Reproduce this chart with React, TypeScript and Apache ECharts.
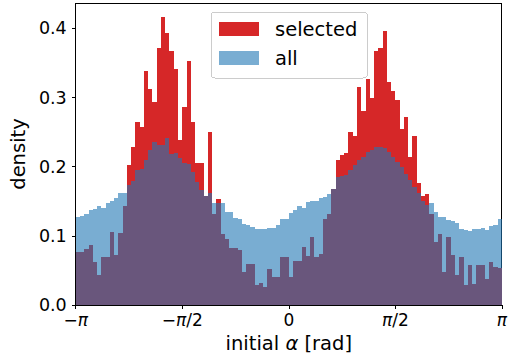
import React, { useEffect, useRef } from "react";
import * as echarts from "echarts";

const PI = Math.PI;
const BIN_COUNT = 100;
const binCenters: string[] = Array.from({ length: BIN_COUNT }, (_, i) =>
  (-PI + (2 * PI * (i + 0.5)) / BIN_COUNT).toFixed(4)
);

const selectedDensity: number[] = [
  0.076, 0.077, 0.081, 0.087, 0.062, 0.044, 0.069, 0.069, 0.106, 0.073,
  0.104, 0.143, 0.202, 0.228, 0.265, 0.257, 0.338, 0.312, 0.294, 0.371,
  0.416, 0.393, 0.367, 0.342, 0.239, 0.287, 0.353, 0.265, 0.205, 0.205,
  0.157, 0.250, 0.132, 0.154, 0.103, 0.096, 0.083, 0.083, 0.080, 0.048,
  0.059, 0.059, 0.029, 0.032, 0.026, 0.052, 0.040, 0.040, 0.070, 0.070,
  0.040, 0.063, 0.063, 0.084, 0.071, 0.099, 0.070, 0.074, 0.125, 0.132,
  0.168, 0.210, 0.217, 0.220, 0.250, 0.245, 0.316, 0.280, 0.327, 0.300,
  0.368, 0.372, 0.397, 0.322, 0.309, 0.297, 0.254, 0.272, 0.214, 0.245,
  0.176, 0.157, 0.161, 0.132, 0.091, 0.103, 0.048, 0.099, 0.072, 0.043,
  0.069, 0.029, 0.058, 0.031, 0.058, 0.058, 0.037, 0.062, 0.055, 0.054,
];

const allDensity: number[] = [
  0.128, 0.129, 0.131, 0.138, 0.139, 0.143, 0.141, 0.148, 0.150, 0.155,
  0.162, 0.162, 0.173, 0.180, 0.195, 0.196, 0.210, 0.224, 0.236, 0.232,
  0.232, 0.242, 0.218, 0.220, 0.213, 0.205, 0.204, 0.192, 0.178, 0.166,
  0.158, 0.162, 0.148, 0.148, 0.148, 0.134, 0.134, 0.126, 0.124, 0.117,
  0.115, 0.113, 0.110, 0.110, 0.110, 0.112, 0.111, 0.115, 0.124, 0.124,
  0.133, 0.138, 0.143, 0.140, 0.149, 0.150, 0.151, 0.155, 0.156, 0.161,
  0.168, 0.185, 0.186, 0.188, 0.195, 0.202, 0.209, 0.214, 0.221, 0.224,
  0.228, 0.229, 0.227, 0.221, 0.214, 0.207, 0.200, 0.190, 0.181, 0.171,
  0.162, 0.150, 0.145, 0.147, 0.135, 0.128, 0.128, 0.123, 0.122, 0.118,
  0.110, 0.109, 0.107, 0.110, 0.110, 0.112, 0.108, 0.114, 0.116, 0.124,
];

const xTickValues: number[] = [-PI, -PI / 2, 0, PI / 2, PI];
const xTickLabels: string[] = ["{m|−}{i|π}", "{m|−}{i|π}/2", "0", "{i|π}/2", "{i|π}"];
const yTickValues: number[] = [0, 0.1, 0.2, 0.3, 0.4];

const FONT = "DejaVu Sans";

export default function App() {
  const ref = useRef<HTMLDivElement>(null);
  useEffect(() => {
    if (!ref.current) return;
    const chart = echarts.init(ref.current, undefined, { renderer: "svg" });
    const tickRich = {
      i: { fontFamily: FONT, fontSize: 17, fontStyle: "italic", color: "#000", lineHeight: 16 },
      m: { fontFamily: FONT, fontSize: 17, color: "#000", lineHeight: 16 },
    };
    chart.setOption({
      animation: false,
      backgroundColor: "#ffffff",
      textStyle: { fontFamily: FONT },
      grid: {
        left: 72,
        right: 5,
        top: 3,
        bottom: 56,
        show: true,
        borderColor: "#000",
        borderWidth: 1,
        backgroundColor: "transparent",
      },
      legend: {
        orient: "vertical",
        left: 211,
        top: 12,
        padding: [6, 10, 9, 8],
        itemWidth: 40,
        itemHeight: 14,
        itemGap: 7,
        borderColor: "#cccccc",
        borderWidth: 1,
        borderRadius: 4,
        backgroundColor: "rgba(255,255,255,0.8)",
        textStyle: {
          fontFamily: FONT,
          fontSize: 19.5,
          color: "#000",
          lineHeight: 22,
          padding: [0, 0, 0, 11],
        },
        data: [
          { name: "selected", icon: "rect" },
          { name: "all", icon: "rect" },
        ],
      },
      xAxis: [
        {
          type: "category",
          data: binCenters,
          show: false,
          boundaryGap: true,
        },
        {
          type: "value",
          position: "bottom",
          min: -PI,
          max: PI,
          splitLine: { show: false },
          axisLine: { show: true, onZero: false, lineStyle: { color: "#000", width: 1 } },
          axisTick: {
            show: true,
            length: 4,
            inside: false,
            customValues: xTickValues,
            lineStyle: { color: "#000", width: 1 },
          },
          axisLabel: {
            customValues: xTickValues,
            margin: 7,
            fontFamily: FONT,
            fontSize: 17,
            lineHeight: 16,
            color: "#000",
            formatter: (v: number) => {
              const idx = xTickValues.findIndex((t) => Math.abs(t - v) < 1e-6);
              return idx >= 0 ? xTickLabels[idx] : "";
            },
            rich: tickRich,
          },
          name: "initial {i|α} [rad]",
          nameLocation: "middle",
          nameGap: 26,
          nameTextStyle: {
            fontFamily: FONT,
            fontSize: 19.5,
            color: "#000",
            rich: {
              i: { fontFamily: FONT, fontSize: 19.5, fontStyle: "italic", color: "#000" },
            },
          },
        },
      ],
      yAxis: {
        type: "value",
        min: 0,
        max: 0.4368,
        splitLine: { show: false },
        axisLine: { show: true, onZero: false, lineStyle: { color: "#000", width: 1 } },
        axisTick: {
          show: true,
          length: 4,
          customValues: yTickValues,
          lineStyle: { color: "#000", width: 1 },
        },
        axisLabel: {
          customValues: yTickValues,
          margin: 9,
          fontFamily: FONT,
          fontSize: 17.5,
          lineHeight: 15,
          color: "#000",
          formatter: (v: number) => v.toFixed(1),
        },
        name: "density",
        nameLocation: "middle",
        nameGap: 43,
        nameRotate: 90,
        nameTextStyle: { fontFamily: FONT, fontSize: 19.5, color: "#000" },
      },
      series: [
        {
          name: "selected",
          type: "bar",
          xAxisIndex: 0,
          data: selectedDensity,
          barGap: "-100%",
          barCategoryGap: "0%",
          itemStyle: { color: "#d62728" },
        },
        {
          name: "all",
          type: "bar",
          xAxisIndex: 0,
          data: allDensity,
          barGap: "-100%",
          barCategoryGap: "0%",
          itemStyle: { color: "rgba(31,119,180,0.6)" },
        },
      ],
    });
    return () => chart.dispose();
  }, []);
  return (
    <div
      ref={ref}
      style={{
        position: "absolute",
        left: 0,
        top: 0,
        width: 510,
        height: 361,
        shapeRendering: "crispEdges",
      } as React.CSSProperties}
    />
  );
}
